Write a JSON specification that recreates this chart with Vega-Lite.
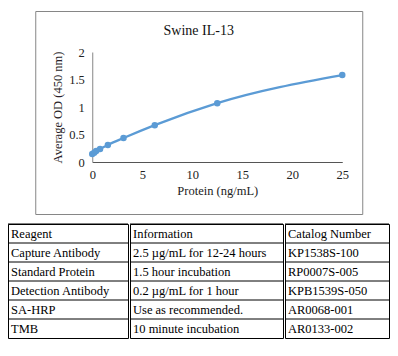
{
  "$schema": "https://vega.github.io/schema/vega-lite/v6.json",
  "padding": {"left": 7, "top": 10, "right": 0, "bottom": 0},
  "background": "white",
  "config": {"font": "Liberation Serif", "view": {"stroke": null}, "axis": {"labelFont": "Liberation Serif", "titleFont": "Liberation Serif"}},
  "datasets": {
    "curve": [
      {"conc": 0, "od": 0.145},
      {"conc": 0.195, "od": 0.17},
      {"conc": 0.39, "od": 0.2},
      {"conc": 0.78, "od": 0.235},
      {"conc": 1.56, "od": 0.31},
      {"conc": 3.125, "od": 0.435},
      {"conc": 6.25, "od": 0.67},
      {"conc": 12.5, "od": 1.07},
      {"conc": 25, "od": 1.58}
    ],
    "table": [
      {"row": 0, "reagent": "Reagent", "information": "Information", "catalog": "Catalog Number"},
      {"row": 1, "reagent": "Capture Antibody", "information": "2.5 µg/mL for 12-24 hours", "catalog": "KP1538S-100"},
      {"row": 2, "reagent": "Standard Protein", "information": "1.5 hour incubation", "catalog": "RP0007S-005"},
      {"row": 3, "reagent": "Detection Antibody", "information": "0.2 µg/mL for 1 hour", "catalog": "KPB1539S-050"},
      {"row": 4, "reagent": "SA-HRP", "information": "Use as recommended.", "catalog": "AR0068-001"},
      {"row": 5, "reagent": "TMB", "information": "10 minute incubation", "catalog": "AR0133-002"}
    ]
  },
  "spacing": 8,
  "center": true,
  "vconcat": [
    {
      "width": 327,
      "height": 203,
      "view": {"stroke": "#868686", "fill": "white"},
      "title": {"text": "Swine IL-13", "font": "Liberation Serif", "fontSize": 14, "fontWeight": "normal", "color": "#111111", "offset": -27, "frame": "group", "anchor": "middle"},
      "data": {"name": "curve"},
      "encoding": {
        "x": {
          "field": "conc", "type": "quantitative",
          "scale": {"domain": [0, 25], "range": [57, 307], "nice": false},
          "axis": {"title": "Protein (ng/mL)", "values": [0, 5, 10, 15, 20, 25], "offset": -52, "ticks": false, "labelPadding": 6, "domainColor": "#555555", "labelFont": "Liberation Serif", "labelFontSize": 12.5, "labelColor": "#222222", "labelFlush": false, "titleFont": "Liberation Serif", "titleFontSize": 12.5, "titleFontWeight": "normal", "titleColor": "#222222", "titlePadding": 4, "grid": false}
        },
        "y": {
          "field": "od", "type": "quantitative",
          "scale": {"domain": [0, 2], "range": [151, 41], "nice": false},
          "axis": {"title": "Average OD (450 nm)", "values": [0, 0.5, 1, 1.5, 2], "format": "~g", "offset": -57, "ticks": false, "labelPadding": 8, "domainColor": "#868686", "labelFont": "Liberation Serif", "labelFontSize": 12.5, "labelColor": "#222222", "labelFlush": false, "titleFont": "Liberation Serif", "titleFontSize": 12.5, "titleFontWeight": "normal", "titleColor": "#2a1f2a", "titlePadding": 4, "grid": false}
        }
      },
      "layer": [
        {"mark": {"type": "line", "interpolate": "monotone", "color": "#5B9BD5", "strokeWidth": 2.25}},
        {"mark": {"type": "circle", "size": 42, "color": "#5B9BD5", "opacity": 1}}
      ]
    },
    {
      "spacing": 0,
      "hconcat": [
        {
          "width": 120, "height": 114,
          "view": {"stroke": "black"},
          "data": {"name": "table"},
          "layer": [
            {"mark": {"type": "rule", "color": "black", "strokeWidth": 1},
             "encoding": {"y": {"field": "row", "type": "ordinal", "bandPosition": 0, "scale": {"paddingInner": 0, "paddingOuter": 0}, "axis": null}}},
            {"mark": {"type": "text", "align": "left", "dx": 3, "fontSize": 12.5, "color": "black"},
             "encoding": {
               "y": {"field": "row", "type": "ordinal", "scale": {"paddingInner": 0, "paddingOuter": 0}, "axis": null},
               "x": {"datum": 0, "type": "quantitative", "scale": {"domain": [0, 1]}, "axis": null},
               "text": {"field": "reagent"}}}
          ]
        },
        {
          "width": 153, "height": 114,
          "view": {"stroke": "black"},
          "data": {"name": "table"},
          "layer": [
            {"mark": {"type": "rule", "color": "black", "strokeWidth": 1},
             "encoding": {"y": {"field": "row", "type": "ordinal", "bandPosition": 0, "scale": {"paddingInner": 0, "paddingOuter": 0}, "axis": null}}},
            {"mark": {"type": "text", "align": "left", "dx": 3, "fontSize": 12.5, "color": "black"},
             "encoding": {
               "y": {"field": "row", "type": "ordinal", "scale": {"paddingInner": 0, "paddingOuter": 0}, "axis": null},
               "x": {"datum": 0, "type": "quantitative", "scale": {"domain": [0, 1]}, "axis": null},
               "text": {"field": "information"}}}
          ]
        },
        {
          "width": 104, "height": 114,
          "view": {"stroke": "black"},
          "data": {"name": "table"},
          "layer": [
            {"mark": {"type": "rule", "color": "black", "strokeWidth": 1},
             "encoding": {"y": {"field": "row", "type": "ordinal", "bandPosition": 0, "scale": {"paddingInner": 0, "paddingOuter": 0}, "axis": null}}},
            {"mark": {"type": "text", "align": "left", "dx": 3, "fontSize": 12.5, "color": "black"},
             "encoding": {
               "y": {"field": "row", "type": "ordinal", "scale": {"paddingInner": 0, "paddingOuter": 0}, "axis": null},
               "x": {"datum": 0, "type": "quantitative", "scale": {"domain": [0, 1]}, "axis": null},
               "text": {"field": "catalog"}}}
          ]
        }
      ]
    }
  ]
}
